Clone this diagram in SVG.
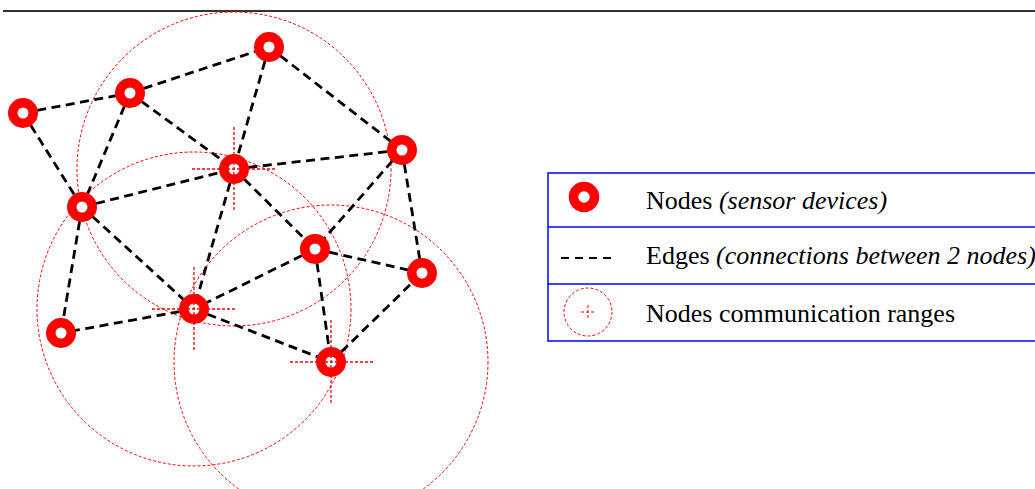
<svg xmlns="http://www.w3.org/2000/svg" width="1035" height="489" viewBox="0 0 1035 489">
<style>
.edge{stroke:#000;stroke-width:2.8;stroke-dasharray:9 5.5;fill:none}
.range{stroke:#f00;stroke-width:1;stroke-dasharray:3 2;fill:none}
.cross{stroke:#f00;stroke-width:1.3;stroke-dasharray:3 2;fill:none}
.node{fill:#fff;stroke:#f00;stroke-width:9.5}
.lbl{font-family:"Liberation Serif","Times New Roman",serif;font-size:26px;fill:#000}
.it{font-style:italic}
</style>
<rect width="1035" height="489" fill="#fff"/>
<line x1="3" y1="11" x2="1035" y2="11" stroke="#333" stroke-width="2"/>
<g id="ranges">
<circle class="range" cx="234" cy="169" r="157"/>
<circle class="range" cx="194" cy="309" r="157"/>
<circle class="range" cx="331" cy="362" r="157"/>
</g>
<g id="connectors">
<line class="edge" x1="23" y1="113" x2="130" y2="93"/>
<line class="edge" x1="130" y1="93" x2="269" y2="47"/>
<line class="edge" x1="23" y1="113" x2="82" y2="207"/>
<line class="edge" x1="130" y1="93" x2="82" y2="207"/>
<line class="edge" x1="130" y1="93" x2="234" y2="169"/>
<line class="edge" x1="269" y1="47" x2="234" y2="169"/>
<line class="edge" x1="269" y1="47" x2="402" y2="150"/>
<line class="edge" x1="234" y1="169" x2="402" y2="150"/>
<line class="edge" x1="82" y1="207" x2="234" y2="169"/>
<line class="edge" x1="402" y1="150" x2="315" y2="249"/>
<line class="edge" x1="402" y1="150" x2="422" y2="273"/>
<line class="edge" x1="234" y1="169" x2="315" y2="249"/>
<line class="edge" x1="234" y1="169" x2="194" y2="309"/>
<line class="edge" x1="82" y1="207" x2="61" y2="333"/>
<line class="edge" x1="82" y1="207" x2="194" y2="309"/>
<line class="edge" x1="315" y1="249" x2="194" y2="309"/>
<line class="edge" x1="315" y1="249" x2="422" y2="273"/>
<line class="edge" x1="315" y1="249" x2="331" y2="362"/>
<line class="edge" x1="194" y1="309" x2="61" y2="333"/>
<line class="edge" x1="194" y1="309" x2="331" y2="362"/>
<line class="edge" x1="331" y1="362" x2="422" y2="273"/>
</g>
<g id="n1"><circle class="node" cx="23" cy="113" r="10.25"/></g>
<g id="n2"><circle class="node" cx="130" cy="93" r="10.25"/></g>
<g id="n3"><circle class="node" cx="269" cy="47" r="10.25"/></g>
<g id="n4"><circle class="node" cx="402" cy="150" r="10.25"/></g>
<g id="n5"><circle class="node" cx="234" cy="169" r="10.25"/>
<path class="cross" d="M234 127V212M192 169H276"/></g>
<g id="n6"><circle class="node" cx="82" cy="207" r="10.25"/></g>
<g id="n7"><circle class="node" cx="315" cy="249" r="10.25"/></g>
<g id="n8"><circle class="node" cx="422" cy="273" r="10.25"/></g>
<g id="n9"><circle class="node" cx="194" cy="309" r="10.25"/>
<path class="cross" d="M194 267V352M152 309H236"/></g>
<g id="n10"><circle class="node" cx="61" cy="333" r="10.25"/></g>
<g id="n11"><circle class="node" cx="331" cy="362" r="10.25"/>
<path class="cross" d="M331 320V405M290 362H373"/></g>
<g id="legend">
<rect x="548" y="173" width="500" height="168" fill="none" stroke="#00f" stroke-width="1.5"/>
<line x1="548" y1="227" x2="1040" y2="227" stroke="#00f" stroke-width="1.5"/>
<line x1="548" y1="284" x2="1040" y2="284" stroke="#00f" stroke-width="1.5"/>
<circle class="node" cx="584" cy="197" r="10.5"/>
<line x1="561" y1="258" x2="611" y2="258" stroke="#000" stroke-width="2" stroke-dasharray="8 6"/>
<circle class="range" cx="588" cy="312" r="24"/>
<path class="range" d="M588 305V319M581 312H595"/>
<text class="lbl" x="646" y="209">Nodes <tspan class="it">(sensor devices)</tspan></text>
<text class="lbl" x="646" y="264">Edges <tspan class="it">(connections between 2 nodes)</tspan></text>
<text class="lbl" x="646" y="322">Nodes communication ranges</text>
</g>
</svg>
